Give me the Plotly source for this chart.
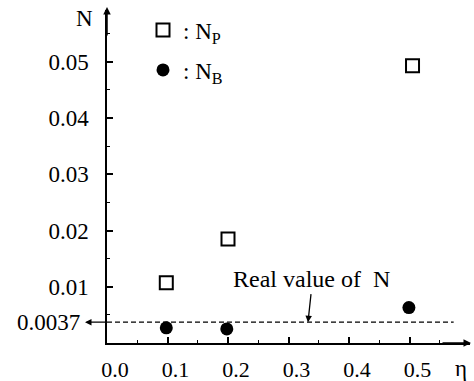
import plotly.graph_objects as go

# ---- data ----
eta_p = [0.098, 0.200, 0.505]
N_p = [0.0107, 0.0185, 0.0493]
eta_b = [0.098, 0.198, 0.499]
N_b = [0.0027, 0.0025, 0.0063]
real_N = 0.0037
real_line_eta = [0.0, 0.573]

x_tickvals = [0.0, 0.1, 0.2, 0.3, 0.4, 0.5]
x_ticktext = ["0.0", "0.1", "0.2", "0.3", "0.4", "0.5"]
y_tickvals = [0.01, 0.02, 0.03, 0.04, 0.05]
y_ticktext = ["0.01", "0.02", "0.03", "0.04", "0.05"]

FONT = "Liberation Serif, Times New Roman, serif"
FS = 23

W, H = 474, 381
ML, MR, MT, MB = 107, 4, 10, 38
PW = W - ML - MR
PH = H - MT - MB
XMAX = PW / 605.0
YMAX = PH / 5625.0

fig = go.Figure()

fig.add_trace(go.Scatter(
    x=real_line_eta, y=[real_N, real_N], mode="lines",
    line=dict(color="black", width=1.3, dash="5px,3px"),
    showlegend=False, hoverinfo="skip"))

fig.add_trace(go.Scatter(
    x=eta_p, y=N_p, mode="markers", name=": N<sub>P</sub>",
    marker=dict(symbol="square-open", size=13, color="black",
                line=dict(width=2, color="black")),
    legend="legend"))

fig.add_trace(go.Scatter(
    x=eta_b, y=N_b, mode="markers", name=": N<sub>B</sub>",
    marker=dict(symbol="circle", size=13, color="black"),
    legend="legend2"))

axis_common = dict(
    showgrid=False, zeroline=False, showline=True, linecolor="black",
    linewidth=1.5, ticks="inside", tickcolor="black", tickwidth=1.5,
    ticklen=6, automargin=False,
)

fig.update_xaxes(range=[0, XMAX], tickvals=x_tickvals, ticktext=x_ticktext,
                 ticklabelstandoff=6, ticklabelshift=8,
                 tickfont=dict(family=FONT, size=22, color="black"),
                 minor=dict(ticks="inside", dtick=0.05, ticklen=3,
                            tickcolor="black", tickwidth=1.2),
                 **axis_common)
fig.update_yaxes(range=[0, YMAX], tickvals=y_tickvals, ticktext=y_ticktext,
                 ticklabelstandoff=12,
                 tickfont=dict(family=FONT, size=FS, color="black"),
                 minor=dict(ticks="inside", dtick=0.005, ticklen=3,
                            tickcolor="black", tickwidth=1.2),
                 **axis_common)

def px_x(px):
    return (px - ML) / PW

def px_y(py):
    return (H - MB - py) / PH

annotations = [
    # y-axis arrow
    dict(xref="paper", yref="paper", x=0, y=px_y(7), ax=0, ay=30,
         showarrow=True, arrowhead=2, arrowsize=1, arrowwidth=1.5,
         arrowcolor="black", text=""),
    # x-axis arrow
    dict(xref="paper", yref="paper", x=px_x(471), y=0, ax=-30, ay=0,
         showarrow=True, arrowhead=2, arrowsize=1, arrowwidth=1.5,
         arrowcolor="black", text=""),
    # axis labels
    dict(xref="paper", yref="paper", x=px_x(84), y=px_y(19), text="N",
         xanchor="center", yanchor="middle",
         showarrow=False, font=dict(family=FONT, size=FS, color="black")),
    dict(xref="paper", yref="paper", x=px_x(461), y=px_y(368), text="η",
         xanchor="center", yanchor="middle",
         showarrow=False, font=dict(family=FONT, size=FS, color="black")),
    # 0.0037 arrow and label
    dict(xref="paper", yref="y", x=px_x(85), y=real_N, ax=22, ay=0,
         showarrow=True, arrowhead=2, arrowsize=1, arrowwidth=1.3,
         arrowcolor="black", text=""),
    dict(xref="paper", yref="y", x=px_x(82), y=real_N, text="0.0037",
         xanchor="right", yanchor="middle", showarrow=False,
         font=dict(family=FONT, size=FS, color="black")),
    # Real value of N (text sits on the tail of its arrow)
    dict(xref="x", yref="y", x=(308 - ML) / 605.0, y=real_N,
         ax=3, ay=-28, xanchor="center", yanchor="bottom",
         showarrow=True, arrowhead=2, arrowsize=1, arrowwidth=1.3,
         arrowcolor="black", text="Real value of  N",
         font=dict(family=FONT, size=24, color="black")),
]

legend_font = dict(family=FONT, size=FS, color="black")
fig.update_layout(
    width=W, height=H,
    margin=dict(l=ML, r=MR, t=MT, b=MB, pad=0, autoexpand=False),
    paper_bgcolor="white", plot_bgcolor="white",
    annotations=annotations,
    legend=dict(x=px_x(143), y=px_y(30), xanchor="left", yanchor="middle",
                font=legend_font, bgcolor="rgba(0,0,0,0)", borderwidth=0,
                itemclick=False, itemdoubleclick=False),
    legend2=dict(x=px_x(143), y=px_y(70), xanchor="left", yanchor="middle",
                 font=legend_font, bgcolor="rgba(0,0,0,0)", borderwidth=0,
                 itemclick=False, itemdoubleclick=False),
    showlegend=True,
)

fig.write_html("out.html", config={"displayModeBar": False},
               post_script="document.body.style.margin='0';")
